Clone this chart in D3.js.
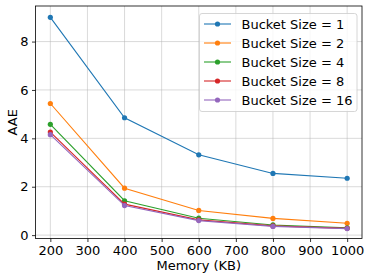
<!DOCTYPE html>
<html><head><meta charset="utf-8">
<script src="https://cdn.jsdelivr.net/npm/d3@7"></script>
<style>body{margin:0;background:#fff}svg{display:block}text{font-family:"DejaVu Sans",sans-serif}</style>
</head><body>
<svg id="c" width="374" height="280"></svg>
<script>
const memory = [200, 400, 600, 800, 1000];
const seriesNames = ["Bucket Size = 1", "Bucket Size = 2", "Bucket Size = 4", "Bucket Size = 8", "Bucket Size = 16"];
const bucket1 = [9.0, 4.85, 3.32, 2.55, 2.35];
const bucket2 = [5.44, 1.94, 1.02, 0.69, 0.49];
const bucket4 = [4.58, 1.42, 0.70, 0.42, 0.30];
const bucket8 = [4.26, 1.28, 0.63, 0.38, 0.28];
const bucket16 = [4.15, 1.22, 0.60, 0.36, 0.27];
const xTicks = [200, 300, 400, 500, 600, 700, 800, 900, 1000];
const yTicks = [0, 2, 4, 6, 8];
const colors = ["#1f77b4", "#ff7f0e", "#2ca02c", "#d62728", "#9467bd"];
const allSeries = [bucket1, bucket2, bucket4, bucket8, bucket16];

const svg = d3.select("#c");
const L = 35.5, R = 362, T = 6, B = 238.5;
const x = d3.scaleLinear().domain([160, 1040]).range([L, R]);
const y = d3.scaleLinear().domain([-0.14, 9.47]).range([B, T]);

// grid
svg.append("g").selectAll("line").data(xTicks).join("line")
  .attr("x1", d => x(d)).attr("x2", d => x(d)).attr("y1", T).attr("y2", B)
  .attr("stroke", "#b0b0b0").attr("stroke-opacity", 0.6).attr("stroke-width", 0.8);
svg.append("g").selectAll("line").data(yTicks).join("line")
  .attr("y1", d => y(d)).attr("y2", d => y(d)).attr("x1", L).attr("x2", R)
  .attr("stroke", "#b0b0b0").attr("stroke-opacity", 0.6).attr("stroke-width", 0.8);

// axes
const xa = svg.append("g").attr("transform", `translate(0,${B})`)
  .call(d3.axisBottom(x).tickValues(xTicks).tickFormat(d3.format("d")).tickSize(3.5).tickPadding(3.5));
const ya = svg.append("g").attr("transform", `translate(${L},0)`)
  .call(d3.axisLeft(y).tickValues(yTicks).tickFormat(d3.format("d")).tickSize(3.5).tickPadding(3.5));
[xa, ya].forEach(a => {
  a.select(".domain").remove();
  a.selectAll("text").attr("font-size", 13).attr("fill", "#000").attr("font-family", "DejaVu Sans");
  a.selectAll("line").attr("stroke", "#000").attr("stroke-width", 0.8);
});
svg.append("rect").attr("x", L).attr("y", T).attr("width", R - L).attr("height", B - T)
  .attr("fill", "none").attr("stroke", "#000").attr("stroke-width", 0.8);

// lines
const line = d3.line().x((d, i) => x(memory[i])).y(d => y(d));
allSeries.forEach((s, k) => {
  const g = svg.append("g");
  g.append("path").datum(s).attr("d", line).attr("fill", "none")
    .attr("stroke", colors[k]).attr("stroke-width", 1.1);
  g.selectAll("circle").data(s).join("circle")
    .attr("cx", (d, i) => x(memory[i])).attr("cy", d => y(d)).attr("r", 2.6)
    .attr("fill", colors[k]);
});

// legend
const lg = svg.append("g");
lg.append("rect").attr("x", 199.5).attr("y", 13.5).attr("width", 157.5).attr("height", 98)
  .attr("rx", 2.5).attr("fill", "#fff").attr("fill-opacity", 0.8)
  .attr("stroke", "#cccccc").attr("stroke-width", 0.8);
seriesNames.forEach((n, k) => {
  const yy = 24 + k * 19;
  lg.append("line").attr("x1", 204).attr("x2", 231).attr("y1", yy).attr("y2", yy)
    .attr("stroke", colors[k]).attr("stroke-width", 1.1);
  lg.append("circle").attr("cx", 217.5).attr("cy", yy).attr("r", 2.6).attr("fill", colors[k]);
  lg.append("text").attr("x", 241.5).attr("y", yy).attr("dy", "0.36em")
    .attr("font-size", 13).attr("fill", "#000").text(n);
});

// labels
svg.append("text").attr("x", (L + R) / 2).attr("y", 269.5).attr("text-anchor", "middle")
  .attr("font-size", 13).text("Memory (KB)");
svg.append("text").attr("transform", `translate(17,${(T + B) / 2}) rotate(-90)`)
  .attr("text-anchor", "middle").attr("font-size", 13).text("AAE");
</script>
</body></html>
